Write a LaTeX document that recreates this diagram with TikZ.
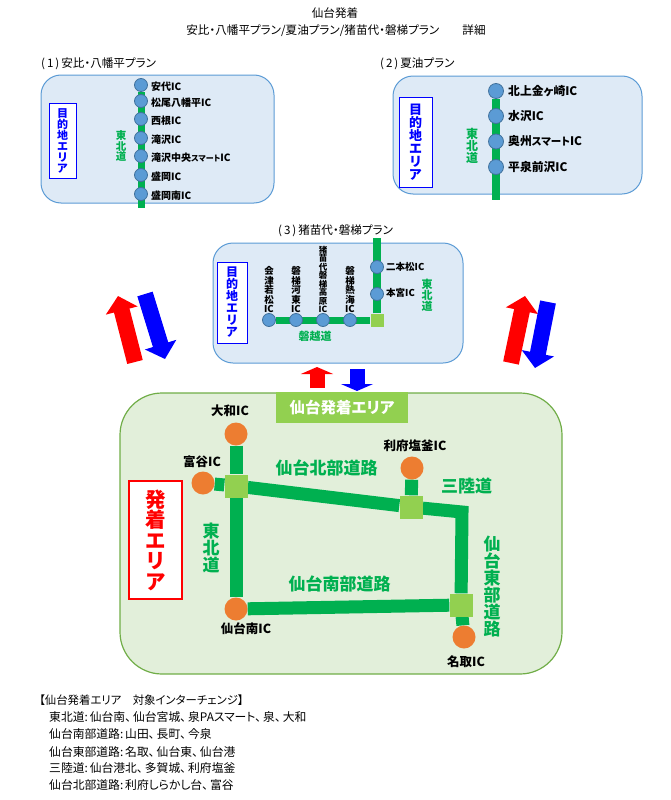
\documentclass[tikz,border=0pt]{standalone}
\usepackage{fontspec}
\setmainfont[RawFeature=+palt]{Noto Sans CJK JP}
\usetikzlibrary{arrows.meta}
\pgfdeclarelayer{panel}
\pgfdeclarelayer{road}
\pgfsetlayers{panel,road,main}
\definecolor{roadgreen}{HTML}{00B050}
\definecolor{icblue}{HTML}{5B9BD5}
\definecolor{icedge}{HTML}{41719C}
\definecolor{icorange}{HTML}{ED7D31}
\definecolor{jctgreen}{HTML}{92D050}
\definecolor{panelblue}{HTML}{DEEAF6}
\definecolor{panelgreen}{HTML}{E2EFDA}
\definecolor{edgegreen}{HTML}{70AD47}
\newcommand{\fs}[1]{\fontsize{#1}{#1}\selectfont}
\tikzset{
  txt/.style={inner sep=0pt,font=\fs{11.6}},
  bluepanel/.style={draw=icblue,line width=1pt,fill=panelblue,rounded corners=20pt},
  areabox/.style={draw=blue,line width=1pt,fill=white,text=blue,align=center,inner sep=0pt,font=\bfseries\fs{#1}},
  icdot/.style={circle,draw=icedge,line width=.8pt,fill=icblue,inner sep=0pt,minimum size=#1},
  iclabel/.style={anchor=west,inner sep=0pt,font=\bfseries\fs{#1}},
  tatelabel/.style={anchor=south,align=center,inner sep=0pt,font=\bfseries\fs{#1}},
  greenlabel/.style={text=roadgreen,align=center,inner sep=0pt,font=\bfseries\fs{#1}},
  roadline/.style={draw=roadgreen,line width=#1,line join=miter},
  orangedot/.style={circle,fill=icorange,inner sep=0pt,minimum size=23pt},
  jct/.style={fill=jctgreen,inner sep=0pt,minimum size=#1},
  bigic/.style={inner sep=0pt,font=\bfseries\fs{12.5}},
  bigarrow/.style={draw=#1,line width=16pt,-{Triangle[length=15pt,width=32pt,color=#1]}},
  smallarrow/.style={draw=#1,line width=15pt,-{Triangle[length=7pt,width=32pt,color=#1]}}
}
\begin{document}
\begin{tikzpicture}[x=1pt,y=-1pt]
\useasboundingbox (0,0) rectangle (671,800);

% titles
\node[txt] (title1) at (335,13) {仙台発着};
\node[txt] (title2) at (336,31) {安比・八幡平プラン/夏油プラン/猪苗代・磐梯プラン　　詳細};
\node[txt,anchor=west] (plan1) at (41,64) {(\,1\,)\,安比・八幡平プラン};
\node[txt,anchor=west] (plan2) at (380,64) {(\,2\,)\,夏油プラン};
\node[txt,anchor=west] (plan3) at (278,231) {(\,3\,)\,猪苗代・磐梯プラン};

\begin{pgfonlayer}{panel}
\node[bluepanel,minimum width=233pt,minimum height=128pt] (panel1) at (157.5,139) {};
\node[bluepanel,minimum width=249pt,minimum height=118pt] (panel2) at (517.5,135) {};
\node[bluepanel,minimum width=250pt,minimum height=120pt] (panel3) at (338,303) {};
\node[draw=edgegreen,line width=1.2pt,fill=panelgreen,rounded corners=42pt,
  minimum width=442pt,minimum height=281pt] (hatsu) at (341,533.5) {};
\end{pgfonlayer}

% (1)
\node[areabox=11,minimum width=27pt,minimum height=75pt] (dest1) at (62.5,140.5) {目\\的\\地\\エ\\リ\\ア};
\node[greenlabel=10.5] (tohoku1) at (121,146) {東\\北\\道};
\foreach \nm/\yy/\lbl in {a1/85/安代IC,a2/101/松尾八幡平IC,a3/119/西根IC,a4/138/滝沢IC,
  a5/156/滝沢中央{\fs{8}スマート}IC,a6/175/盛岡IC,a7/194/盛岡南IC}{
  \node[icdot=13pt] (\nm) at (141,\yy) {};
  \node[iclabel=10] (\nm t) at (151,\yy+2) {\lbl};
}
\coordinate (a8) at (141,208);
\begin{pgfonlayer}{road}
\draw[roadline=7pt] (a1) -- (a8);
\end{pgfonlayer}

% (2)
\node[areabox=13,minimum width=33pt,minimum height=90pt] (dest2) at (415.5,142) {目\\的\\地\\エ\\リ\\ア};
\node[greenlabel=12] (tohoku2) at (472,146) {東\\北\\道};
\foreach \nm/\yy/\lbl in {b1/91/北上金ヶ崎IC,b2/116/水沢IC,b3/141.5/奥州{\fs{10.5}スマート}IC,b4/167/平泉前沢IC}{
  \node[icdot=15pt] (\nm) at (496,\yy) {};
  \node[iclabel=11.8] (\nm t) at (508,\yy) {\lbl};
}
\coordinate (b5) at (496,200);
\begin{pgfonlayer}{road}
\draw[roadline=8pt] (b1) -- (b5);
\end{pgfonlayer}

% (3)
\node[areabox=12,minimum width=30pt,minimum height=81pt] (dest3) at (232,302.5) {目\\的\\地\\エ\\リ\\ア};
\node[jct=13pt] (c0) at (377,320) {};
\foreach \nm/\xx/\sz/\lbl in {c1/269/9.5/会\\津\\若\\松\\IC,c2/296/9.5/磐\\梯\\河\\東\\IC,
  c3/323/8.5/猪\\苗\\代\\磐\\梯\\高\\原\\IC,c4/350/9.5/磐\\梯\\熱\\海\\IC}{
  \node[icdot=13pt] (\nm) at (\xx,320) {};
  \node[tatelabel=\sz] (\nm t) at (\xx,313) {\lbl};
}
\node[icdot=13pt] (c5) at (377,294) {};
\node[icdot=13pt] (c6) at (377,267) {};
\node[iclabel=9.5] (c5t) at (386,293) {本宮IC};
\node[iclabel=9.5] (c6t) at (386,267) {二本松IC};
\coordinate (c7) at (377,238);
\node[greenlabel=11] (tohoku3) at (427,295) {東\\北\\道};
\node[greenlabel=11] (bannetsu) at (315,336) {磐越道};
\begin{pgfonlayer}{road}
\draw[roadline=7pt] (c1) -- (c0);
\draw[roadline=8pt] (c0) -- (c7);
\end{pgfonlayer}

% arrows
\coordinate (r1s) at (135,362);
\coordinate (r1e) at (118,296);
\coordinate (b1s) at (145,294);
\coordinate (b1e) at (165,359);
\coordinate (r2s) at (511,363);
\coordinate (r2e) at (525,296);
\coordinate (b2s) at (548,302);
\coordinate (b2e) at (535,368);
\coordinate (r3s) at (317,388);
\coordinate (r3e) at (317,367);
\coordinate (b3s) at (357,369);
\coordinate (b3e) at (357,391);
\draw[bigarrow=red] (r1s) -- (r1e);
\draw[bigarrow=blue] (b1s) -- (b1e);
\draw[bigarrow=red] (r2s) -- (r2e);
\draw[bigarrow=blue] (b2s) -- (b2e);
\draw[smallarrow=red] (r3s) -- (r3e);
\draw[smallarrow=blue] (b3s) -- (b3e);

% sendai area
\node[fill=jctgreen,text=white,inner sep=0pt,minimum width=132pt,minimum height=31pt,font=\bfseries\fs{15.5}] (areahead) at (342,407.5) {仙台発着エリア};
\node[draw=red,line width=1.2pt,fill=white,text=red,align=center,inner sep=0pt,minimum width=53pt,minimum height=118pt,font=\bfseries\fs{20.5}] (hatsubox) at (155.5,540) {発\\着\\エ\\リ\\ア};

\node[orangedot] (yamato) at (236,434) {};
\node[orangedot] (tomiya) at (203,483) {};
\node[orangedot] (sminami) at (236,609) {};
\node[orangedot] (rifu) at (412,468) {};
\node[orangedot] (natori) at (464,637) {};
\node[jct=23pt] (j1) at (236,486) {};
\node[jct=23pt] (j2) at (411,507) {};
\node[jct=23pt] (j3) at (461,605) {};
\coordinate (bend) at (462,512);

\begin{pgfonlayer}{road}
\draw[roadline=13pt] (yamato) -- (j1);
\draw[roadline=13pt] (j1) -- (sminami);
\draw[roadline=13pt] (tomiya) -- (j1);
\draw[roadline=13pt] (j1) -- (j2);
\draw[roadline=13pt] (rifu) -- (j2);
\draw[roadline=13pt] (j2) -- (bend) -- (j3);
\draw[roadline=13pt] (j3) -- (natori);
\draw[roadline=13pt] (sminami) -- (j3);
\end{pgfonlayer}

\node[bigic] (yamatot) at (230,411) {大和IC};
\node[bigic] (tomiyat) at (202,462) {富谷IC};
\node[bigic] (sminamit) at (246,629) {仙台南IC};
\node[bigic] (rifut) at (415,446) {利府塩釜IC};
\node[bigic] (natorit) at (466,662) {名取IC};

\node[greenlabel=17] (kita) at (326.5,468) {仙台北部道路};
\node[greenlabel=17] (minami) at (339.5,584) {仙台南部道路};
\node[greenlabel=17] (sanriku) at (466.5,486) {三陸道};
\node[greenlabel=17] (tohoku4) at (211,548) {東\\北\\道};
\node[greenlabel=17] (higashi) at (492,587) {仙\\台\\東\\部\\道\\路};

% list
\node[txt,anchor=west,font=\fs{11.4}] (list0) at (39,700) {【仙台発着エリア　対象インターチェンジ】};
\foreach \nm/\yy/\lbl in {list1/717/東北道:\,仙台南、\,仙台宮城、\,泉PAスマート、\,泉、\,大和,
  list2/734/仙台南部道路:\,山田、\,長町、\,今泉,
  list3/752/仙台東部道路:\,名取、\,仙台東、\,仙台港,
  list4/768/三陸道:\,仙台港北、\,多賀城、\,利府塩釜,
  list5/785/仙台北部道路:\,利府しらかし台、\,富谷}
  \node[txt,anchor=west,font=\fs{11.8}] (\nm) at (49,\yy) {\lbl};
\end{tikzpicture}
\end{document}
